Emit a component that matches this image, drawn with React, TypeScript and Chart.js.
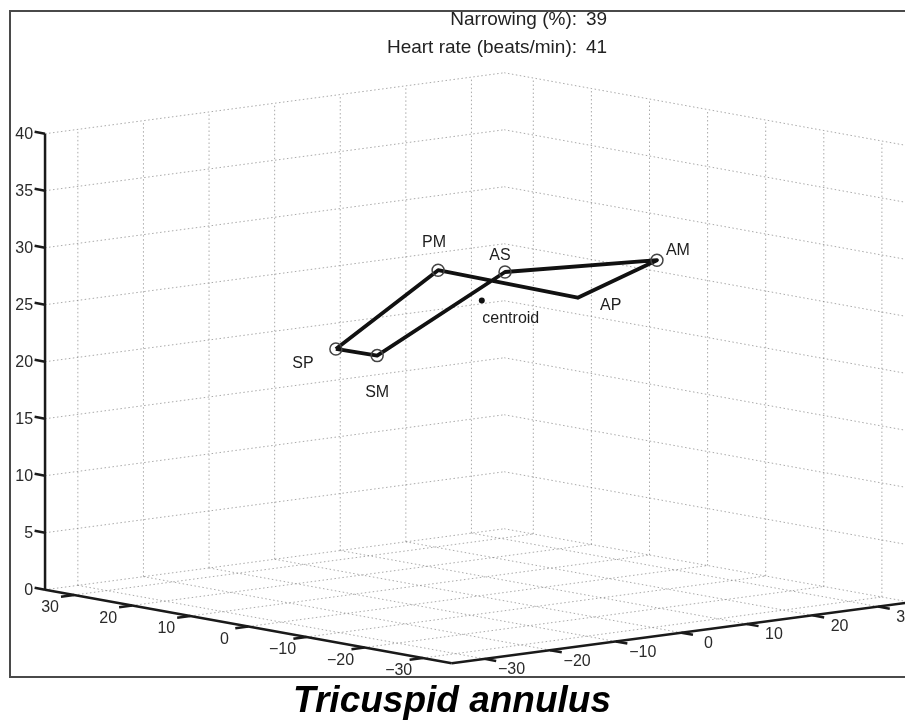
import React, { useEffect, useRef } from 'react';
import { Chart, registerables } from 'chart.js';

Chart.register(...registerables);

const W = 905;
const H = 724;

// ---- axis limits & ticks (data units) ----
const xLim = [-35, 35];
const yLim = [-35, 35];
const zLim = [0, 40];
const xTicks = [-30, -20, -10, 0, 10, 20, 30];
const yTicks = [-30, -20, -10, 0, 10, 20, 30];
const zTicks = [0, 5, 10, 15, 20, 25, 30, 35, 40];

// ---- annulus points (ring order) ----
const ringNames = ['SP', 'PM', 'AP', 'AM', 'AS', 'SM'];
const ringX = [10.8, 15.9, 4.4, -13.3, -15.6, -1.5];
const ringY = [-12.1, 8.0, 19.1, 15.5, -9.7, -16.7];
const ringZ = [21.6, 26.5, 24.3, 29.5, 30.6, 22.5];
const ringMarker = [true, true, false, true, true, true];
const centroidXYZ = [-0.2, 0.4, 25.9];
const centroidName = 'centroid';

// ---- header / title ----
const headerLabels = ['Narrowing (%):', 'Heart rate (beats/min):'];
const headerValues = [39, 41];
const chartTitle = 'Tricuspid annulus';

// ---- view (orthographic projection, style) ----
const VIEW = { ox: 478, oy: 596, xx: -5.81, xy: -1.05, yx: 6.56, yy: -0.871, zy: -11.4 };
const proj = (x: number, y: number, z: number) => ({
  x: VIEW.ox + VIEW.xx * x + VIEW.yx * y,
  y: VIEW.oy + VIEW.xy * x + VIEW.yy * y + VIEW.zy * z,
});

// label offsets in pixels (style)
const ringLabelOffset: Record<string, [number, number]> = {
  SP: [-33, 15],
  PM: [-4, -28],
  AP: [33, 8],
  AM: [21, -10],
  AS: [-5, -16],
  SM: [0, 37],
};
const centroidLabelOffset: [number, number] = [29, 18];

const FONT = '"Liberation Sans", Arial, Helvetica, sans-serif';
const fmt = (v: number) => (v < 0 ? '\u2212' + Math.abs(v) : String(v));

export default function App() {
  const ref = useRef<HTMLCanvasElement | null>(null);

  useEffect(() => {
    const canvas = ref.current;
    if (!canvas) return;

    const gridStyle = {
      borderColor: 'rgba(125,125,125,0.65)',
      borderWidth: 1,
      borderDash: [1.5, 2.5],
      pointRadius: 0,
      showLine: true,
      fill: false,
      order: 10,
    };
    const axisStyle = {
      borderColor: '#1a1a1a',
      borderWidth: 2.5,
      pointRadius: 0,
      showLine: true,
      fill: false,
      order: 5,
    };
    const seg = (a: number[], b: number[], style: any) => ({
      data: [proj(a[0], a[1], a[2]), proj(b[0], b[1], b[2])],
      ...style,
    });

    const datasets: any[] = [];
    const [x0, x1] = xLim;
    const [y0, y1] = yLim;
    const [z0, z1] = zLim;

    // left back wall (x = x1)
    yTicks.forEach((b) => datasets.push(seg([x1, b, z0], [x1, b, z1], gridStyle)));
    zTicks.forEach((z) => datasets.push(seg([x1, y0, z], [x1, y1, z], gridStyle)));
    // right back wall (y = y1)
    xTicks.forEach((a) => datasets.push(seg([a, y1, z0], [a, y1, z1], gridStyle)));
    zTicks.forEach((z) => datasets.push(seg([x0, y1, z], [x1, y1, z], gridStyle)));
    // floor
    xTicks.forEach((a) => datasets.push(seg([a, y0, z0], [a, y1, z0], gridStyle)));
    yTicks.forEach((b) => datasets.push(seg([x0, b, z0], [x1, b, z0], gridStyle)));

    // axes
    datasets.push(seg([x1, y0, z0], [x1, y0, z1], axisStyle));
    datasets.push(seg([x1, y0, z0], [x0, y0, z0], axisStyle));
    datasets.push(seg([x0, y0, z0], [x0, y1, z0], axisStyle));
    const tl = 2;
    xTicks.forEach((a) => datasets.push(seg([a, y0, z0], [a, y0 - tl, z0], axisStyle)));
    yTicks.forEach((b) => datasets.push(seg([x0, b, z0], [x0 - tl, b, z0], axisStyle)));
    zTicks.forEach((z) => datasets.push(seg([x1, y0, z], [x1 + 1.8, y0, z], axisStyle)));

    // annulus loop
    const ringPts = ringNames.map((_, i) => proj(ringX[i], ringY[i], ringZ[i]));
    datasets.push({
      data: [...ringPts, ringPts[0]],
      borderColor: '#111',
      borderWidth: 3.8,
      pointRadius: 0,
      showLine: true,
      fill: false,
      borderJoinStyle: 'round',
      order: 2,
    });
    datasets.push({
      data: ringPts.filter((_, i) => ringMarker[i]),
      showLine: false,
      pointRadius: 6,
      pointBorderWidth: 1.5,
      pointBorderColor: '#444',
      pointBackgroundColor: 'rgba(0,0,0,0)',
      order: 1,
    });
    datasets.push({
      data: [proj(centroidXYZ[0], centroidXYZ[1], centroidXYZ[2])],
      showLine: false,
      pointRadius: 3,
      pointBorderWidth: 0,
      pointBackgroundColor: '#111',
      order: 0,
    });

    const textPlugin = {
      id: 'textPlugin',
      beforeDraw(chart: any) {
        const { ctx } = chart;
        ctx.save();
        ctx.fillStyle = '#ffffff';
        ctx.fillRect(0, 0, W, H);
        ctx.strokeStyle = '#4a4a4a';
        ctx.lineWidth = 2;
        ctx.strokeRect(10, 11, W + 10, 666);
        ctx.restore();
      },
      afterDraw(chart: any) {
        const { ctx } = chart;
        const sx = chart.scales.x;
        const sy = chart.scales.y;
        const px = (p: { x: number; y: number }) => ({ x: sx.getPixelForValue(p.x), y: sy.getPixelForValue(p.y) });
        ctx.save();
        // z tick labels
        ctx.fillStyle = '#2a2a2a';
        ctx.font = `16px ${FONT}`;
        ctx.textAlign = 'right';
        ctx.textBaseline = 'middle';
        zTicks.forEach((z) => {
          const p = px(proj(x1, y0, z));
          ctx.fillText(fmt(z), p.x - 12, p.y + 1);
        });
        ctx.textAlign = 'center';
        xTicks.forEach((a) => {
          const p = px(proj(a, y0, z0));
          ctx.fillText(fmt(a), p.x - 24, p.y + 13);
        });
        yTicks.forEach((b) => {
          const p = px(proj(x0, b, z0));
          ctx.fillText(fmt(b), p.x + 27, p.y + 11);
        });
        // point labels
        ctx.fillStyle = '#1e1e1e';
        ringNames.forEach((n, i) => {
          const p = px(proj(ringX[i], ringY[i], ringZ[i]));
          const o = ringLabelOffset[n];
          ctx.fillText(n, p.x + o[0], p.y + o[1]);
        });
        {
          const p = px(proj(centroidXYZ[0], centroidXYZ[1], centroidXYZ[2]));
          ctx.fillText(centroidName, p.x + centroidLabelOffset[0], p.y + centroidLabelOffset[1]);
        }
        // header
        ctx.fillStyle = '#222';
        ctx.textBaseline = 'alphabetic';
        ctx.font = `19px ${FONT}`;
        headerLabels.forEach((lbl, i) => {
          const yb = 25 + i * 28;
          ctx.textAlign = 'right';
          ctx.fillText(lbl, 577, yb);
          ctx.textAlign = 'left';
          ctx.fillText(String(headerValues[i]), 586, yb);
        });
        // title
        ctx.fillStyle = '#000';
        ctx.font = `bold italic 37px ${FONT}`;
        ctx.textAlign = 'center';
        ctx.fillText(chartTitle, 452, 712);
        ctx.restore();
      },
    };

    const chart = new Chart(canvas, {
      type: 'scatter',
      data: { datasets },
      options: {
        animation: false,
        responsive: false,
        devicePixelRatio: 1,
        events: [],
        layout: { padding: 0, autoPadding: false },
        plugins: { legend: { display: false }, tooltip: { enabled: false }, title: { display: false } },
        scales: {
          x: { type: 'linear', min: 0, max: W, display: false },
          y: { type: 'linear', min: 0, max: H, reverse: true, display: false },
        },
      },
      plugins: [textPlugin],
    });
    return () => chart.destroy();
  }, []);

  return (
    <div style={{ position: 'absolute', left: 0, top: 0, width: W, height: H }}>
      <canvas ref={ref} width={W} height={H} style={{ display: 'block', width: W, height: H }} />
    </div>
  );
}
